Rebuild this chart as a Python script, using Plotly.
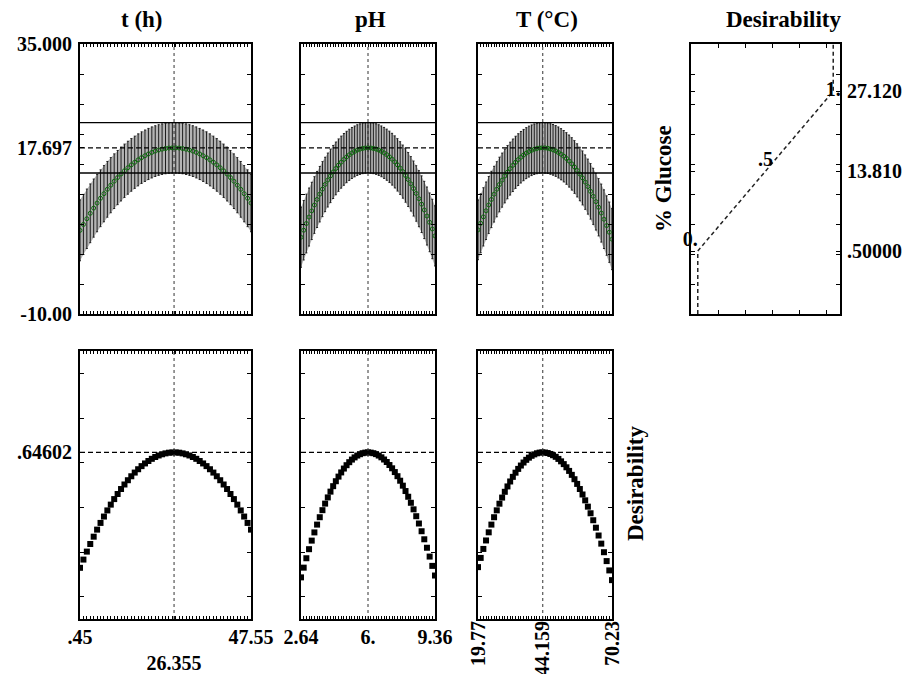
import numpy as np
import plotly.graph_objects as go

# page is 918x682; the html body adds an 8px margin, so the figure is drawn
# 16px smaller and all page coordinates are shifted by that margin
PAGE_W, PAGE_H = 918, 682
OFF = 8
W, H = PAGE_W - 2 * OFF, PAGE_H - 2 * OFF

# ---------------- data ----------------
N_STEPS = 51
T_RANGE = (0.45, 47.55)
T_OPT = 26.355
PH_RANGE = (2.64, 9.36)
PH_OPT = 6.0
TEMP_RANGE = (19.77, 70.23)
TEMP_OPT = 44.159

GLU_OPT = 17.697          # predicted % glucose at optimum
CI_HI = 21.9              # upper confidence limit line
CI_LO = 13.5              # lower confidence limit line
DESIR_OPT = 0.64602

# predicted % glucose profiles
T_GLU = [3.94, 4.92, 5.87, 6.78, 7.65, 8.49, 9.29, 10.05, 10.78, 11.47, 12.13, 12.74,
         13.33, 13.87, 14.38, 14.85, 15.29, 15.69, 16.06, 16.38, 16.67, 16.93, 17.15,
         17.33, 17.47, 17.58, 17.66, 17.69, 17.69, 17.66, 17.58, 17.47, 17.33, 17.15,
         16.93, 16.67, 16.38, 16.06, 15.69, 15.29, 14.85, 14.38, 13.87, 13.33, 12.74,
         12.13, 11.47, 10.78, 10.05, 9.29, 8.49]
T_HW = [5.07, 5.01, 4.95, 4.89, 4.84, 4.78, 4.73, 4.68, 4.64, 4.59, 4.55, 4.51, 4.48,
        4.44, 4.41, 4.38, 4.35, 4.33, 4.30, 4.28, 4.26, 4.25, 4.23, 4.22, 4.21, 4.21,
        4.20, 4.20, 4.20, 4.20, 4.21, 4.21, 4.22, 4.23, 4.25, 4.26, 4.28, 4.30, 4.33,
        4.35, 4.38, 4.41, 4.44, 4.48, 4.51, 4.55, 4.59, 4.64, 4.68, 4.73, 4.78]

PH_GLU = [2.80, 3.96, 5.08, 6.16, 7.18, 8.16, 9.09, 9.97, 10.81, 11.59, 12.33, 13.02,
          13.67, 14.26, 14.81, 15.31, 15.77, 16.17, 16.53, 16.84, 17.10, 17.32, 17.48,
          17.60, 17.67, 17.70, 17.67, 17.60, 17.49, 17.32, 17.11, 16.85, 16.55, 16.19,
          15.80, 15.35, 14.86, 14.32, 13.73, 13.09, 12.41, 11.69, 10.91, 10.09, 9.22,
          8.30, 7.34, 6.33, 5.28, 4.17, 3.02]
PH_HW = [5.01, 4.95, 4.89, 4.83, 4.77, 4.72, 4.67, 4.62, 4.58, 4.53, 4.49, 4.45, 4.42,
         4.39, 4.36, 4.33, 4.31, 4.28, 4.26, 4.25, 4.23, 4.22, 4.21, 4.21, 4.20, 4.20,
         4.20, 4.21, 4.21, 4.22, 4.23, 4.25, 4.26, 4.28, 4.31, 4.33, 4.36, 4.39, 4.42,
         4.45, 4.49, 4.53, 4.58, 4.62, 4.67, 4.72, 4.77, 4.83, 4.89, 4.95, 5.01]

TEMP_GLU = [4.02, 5.12, 6.19, 7.20, 8.17, 9.09, 9.97, 10.79, 11.58, 12.31, 13.00, 13.64,
            14.23, 14.78, 15.28, 15.73, 16.13, 16.49, 16.81, 17.07, 17.29, 17.46, 17.59,
            17.67, 17.70, 17.68, 17.62, 17.51, 17.36, 17.17, 16.92, 16.63, 16.30, 15.92,
            15.49, 15.02, 14.50, 13.94, 13.33, 12.68, 11.98, 11.23, 10.44, 9.61, 8.72,
            7.79, 6.82, 5.80, 4.74, 3.63, 2.47]
TEMP_HW = [4.97, 4.91, 4.85, 4.79, 4.74, 4.69, 4.64, 4.59, 4.55, 4.50, 4.47, 4.43, 4.40,
           4.37, 4.34, 4.31, 4.29, 4.27, 4.25, 4.24, 4.22, 4.21, 4.21, 4.20, 4.20, 4.20,
           4.20, 4.21, 4.22, 4.23, 4.25, 4.26, 4.28, 4.30, 4.33, 4.36, 4.39, 4.42, 4.45,
           4.49, 4.53, 4.58, 4.62, 4.67, 4.72, 4.77, 4.83, 4.89, 4.95, 5.02, 5.08]

# desirability function (desirability vs % glucose)
DF_GLU_PTS = [0.5, 13.81, 27.12]
DF_DES_PTS = [0.0, 0.5, 1.0]
DF_LINE_D = [0.0, 0.0, 0.5, 1.0, 1.0]
DF_LINE_G = [-10.0, 0.5, 13.81, 27.12, 35.0]
DF_LABELS = ["0.", ".5", "1."]

GLU_RANGE = (-10.0, 35.0)
DES_RANGE = (-0.1, 1.1)

FACTORS = [
    dict(title="t (h)", rng=T_RANGE, opt=T_OPT, glu=T_GLU, hw=T_HW,
         ticktext=[".45", "<br>26.355", "47.55"], angle=0, standoff=-1, tx=142),
    dict(title="pH", rng=PH_RANGE, opt=PH_OPT, glu=PH_GLU, hw=PH_HW,
         ticktext=["2.64", "6.", "9.36"], angle=0, standoff=-1, tx=370),
    dict(title="T (°C)", rng=TEMP_RANGE, opt=TEMP_OPT, glu=TEMP_GLU, hw=TEMP_HW,
         ticktext=["19.77", "44.159", "70.23"], angle=-90, standoff=-8, tx=547),
]

# ---------------- layout geometry (page pixels) ----------------
COLS = [(80, 251), (301, 435), (478, 612)]
DCOL = (691, 840)
TOP = (44, 314)
BOT = (351, 619)

FONT = "Liberation Serif"


def px(a):
    return (a - OFF) / W


def py(a):
    return 1 - (a - OFF) / H


def dx(a, b):
    return [px(a), px(b)]


def dy(t, b):
    return [py(b), py(t)]


tickfont = dict(family=FONT, size=20, color="black", weight="bold")
base = dict(showline=True, linecolor="black", linewidth=2, mirror="ticks",
            showgrid=False, zeroline=False, tickcolor="black", automargin=False,
            tickfont=tickfont, fixedrange=True)

fig = go.Figure()
layout = {}
shapes = []

for j, f in enumerate(FACTORS):
    lo, hi = f["rng"]
    grid = np.linspace(lo, hi, N_STEPS)
    step = (hi - lo) / (N_STEPS - 1)
    glu = np.array(f["glu"])
    hw = np.array(f["hw"])
    des = np.interp(glu, DF_GLU_PTS, DF_DES_PTS)

    ti = j + 1          # top axes index
    bi = j + 5          # bottom axes index
    txn, tyn = f"x{ti}", f"y{ti}"
    bxn, byn = f"x{bi}", f"y{bi}"

    # confidence band fill
    fig.add_trace(go.Scatter(
        x=np.concatenate([grid, grid[::-1]]),
        y=np.concatenate([glu + hw, (glu - hw)[::-1]]),
        fill="toself", fillcolor="#b4b4b4", line=dict(width=0),
        mode="lines", hoverinfo="skip", xaxis=txn, yaxis=tyn))
    # predicted values with error bars
    fig.add_trace(go.Scatter(
        x=grid, y=glu, mode="markers",
        marker=dict(symbol="circle-open", size=4, color="#0b6a0b",
                    line=dict(width=1, color="#0b6a0b")),
        error_y=dict(type="data", array=hw, color="#1e1e1e", thickness=1, width=1),
        xaxis=txn, yaxis=tyn))
    # desirability profile
    fig.add_trace(go.Scatter(
        x=grid, y=des, mode="markers",
        marker=dict(symbol="square", size=6, color="black"),
        xaxis=bxn, yaxis=byn))

    xs = "" if ti == 1 else str(ti)
    xb = str(bi)
    shapes += [
        dict(type="line", xref=f"x{xs} domain", yref=f"y{xs}", x0=0, x1=1,
             y0=GLU_OPT, y1=GLU_OPT, line=dict(color="black", width=1.2, dash="5px,3px")),
        dict(type="line", xref=f"x{xs} domain", yref=f"y{xs}", x0=0, x1=1,
             y0=CI_HI, y1=CI_HI, line=dict(color="black", width=1.3)),
        dict(type="line", xref=f"x{xs} domain", yref=f"y{xs}", x0=0, x1=1,
             y0=CI_LO, y1=CI_LO, line=dict(color="black", width=1.3)),
        dict(type="line", xref=f"x{xs}", yref=f"y{xs} domain", x0=f["opt"], x1=f["opt"],
             y0=0, y1=1, line=dict(color="#333", width=1, dash="dot")),
        dict(type="line", xref=f"x{xb} domain", yref=f"y{xb}", x0=0, x1=1,
             y0=DESIR_OPT, y1=DESIR_OPT, line=dict(color="black", width=1.2, dash="5px,3px")),
        dict(type="line", xref=f"x{xb}", yref=f"y{xb} domain", x0=f["opt"], x1=f["opt"],
             y0=0, y1=1, line=dict(color="#333", width=1, dash="dot")),
    ]

    c0, c1 = COLS[j]
    minor_x = dict(ticks="inside", tick0=lo, dtick=step, ticklen=3, tickcolor="black")
    layout[f"xaxis{ti}"] = dict(base, domain=dx(c0, c1), anchor=tyn, range=[lo, hi],
                                tickvals=[f["opt"]], ticks="inside", ticklen=3,
                                showticklabels=False, minor=minor_x)
    layout[f"yaxis{ti}"] = dict(base, domain=dy(*TOP), anchor=txn, range=list(GLU_RANGE),
                                ticks="inside", ticklen=4,
                                tickvals=[35, GLU_OPT, -10] if j == 0 else [],
                                ticktext=["35.000", "17.697", "-10.00"] if j == 0 else [],
                                showticklabels=(j == 0), ticklabelstandoff=2,
                                minor=dict(ticks="inside", tick0=0, dtick=5, ticklen=4,
                                           tickcolor="black"))
    layout[f"xaxis{bi}"] = dict(base, domain=dx(c0, c1), anchor=byn, range=[lo, hi],
                                tickvals=[lo, f["opt"], hi], ticktext=f["ticktext"],
                                ticks="inside", ticklen=3, tickangle=f["angle"],
                                ticklabelstandoff=f["standoff"], minor=minor_x)
    layout[f"yaxis{bi}"] = dict(base, domain=dy(*BOT), anchor=bxn, range=list(DES_RANGE),
                                ticks="inside", ticklen=4,
                                tickvals=[DESIR_OPT] if j == 0 else [],
                                ticktext=[".64602"] if j == 0 else [],
                                showticklabels=(j == 0), ticklabelstandoff=2,
                                minor=dict(ticks="inside", tick0=0, dtick=0.2, ticklen=4,
                                           tickcolor="black"))

# desirability function panel
fig.add_trace(go.Scatter(x=DF_LINE_D, y=DF_LINE_G, mode="lines",
                         line=dict(color="#222", width=1.5, dash="4px,3px"),
                         xaxis="x4", yaxis="y4"))
fig.add_trace(go.Scatter(x=DF_DES_PTS, y=DF_GLU_PTS, mode="text", text=DF_LABELS,
                         textposition=["top left", "top center", "middle center"],
                         textfont=dict(family=FONT, size=20, color="black", weight="bold"),
                         xaxis="x4", yaxis="y4", cliponaxis=False))
layout["xaxis4"] = dict(base, domain=dx(*DCOL), anchor="y4", range=[-0.05, 1.05],
                        tickvals=[], showticklabels=False, ticks="inside", ticklen=4,
                        minor=dict(ticks="inside", tick0=-0.05, dtick=0.2, ticklen=4,
                                   tickcolor="black"))
layout["yaxis4"] = dict(base, domain=dy(*TOP), anchor="x4", range=list(GLU_RANGE),
                        side="right", ticks="inside", ticklen=4,
                        tickvals=DF_GLU_PTS[::-1], ticktext=["27.120", "13.810", ".50000"],
                        ticklabelstandoff=1,
                        minor=dict(ticks="inside", tick0=0, dtick=5, ticklen=4,
                                   tickcolor="black"))

titlefont = dict(family=FONT, size=23, color="black", weight="bold")
annotations = []
for f in FACTORS:
    annotations.append(dict(text=f["title"], x=px(f["tx"]), y=py(19), xref="paper",
                            yref="paper", showarrow=False, font=titlefont,
                            xanchor="center", yanchor="middle"))
annotations.append(dict(text="Desirability", x=px(783), y=py(19), xref="paper",
                        yref="paper", showarrow=False, font=titlefont,
                        xanchor="center", yanchor="middle"))
annotations.append(dict(text="% Glucose", x=px(663), y=py(179), xref="paper",
                        yref="paper", showarrow=False, font=titlefont, textangle=-90,
                        xanchor="center", yanchor="middle"))
annotations.append(dict(text="Desirability", x=px(635), y=py(484), xref="paper",
                        yref="paper", showarrow=False, font=titlefont, textangle=-90,
                        xanchor="center", yanchor="middle"))

fig.update_layout(width=W, height=H,
                  margin=dict(l=0, r=0, t=0, b=0, pad=0, autoexpand=False),
                  paper_bgcolor="white", plot_bgcolor="white", showlegend=False,
                  shapes=shapes, annotations=annotations, **layout)

fig.write_html("out.html")
